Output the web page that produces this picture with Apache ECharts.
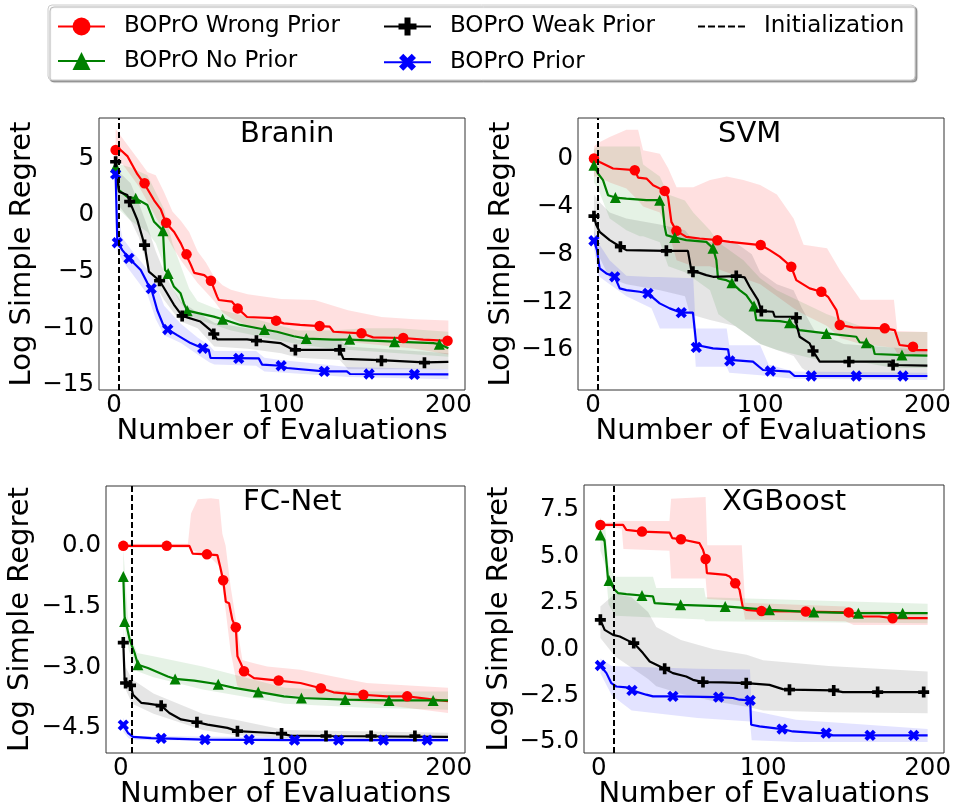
<!DOCTYPE html>
<html><head><meta charset="utf-8">
<script src="https://cdn.jsdelivr.net/npm/echarts@6/dist/echarts.min.js"></script>
<style>html,body{margin:0;padding:0;background:#fff}#c{width:954px;height:809px}</style>
</head><body><div id="c"></div>
<script>
// ---------------- DATA ----------------
const seriesNames = ['BOPrO Wrong Prior', 'BOPrO No Prior', 'BOPrO Weak Prior', 'BOPrO Prior'];
const initName = 'Initialization';
const panelTitles = ['Branin', 'SVM', 'FC-Net', 'XGBoost'];
const initX = [3, 3, 7, 9];
const xTicks = [0, 100, 200];
const braninYTicks = [5, 0, -5, -10, -15];
const svmYTicks = [0, -4, -8, -12, -16];
const fcYTicks = [0, -1.5, -3, -4.5];
const xgbYTicks = [7.5, 5, 2.5, 0, -2.5, -5];

// Branin
const braninWrong = [[1,5.74],[4,5.74],[8,5.2],[14,3.6],[18,2.8],[24,1.3],[28,0.5],[31,-0.68],[36,-1.5],[40,-2.5],[43,-3.47],[46,-4.4],[48,-5.1],[54,-5.3],[58,-5.8],[61.7,-7.2],[62.7,-7.5],[70.6,-7.65],[74,-8.24],[79.6,-9.0],[95.5,-9.1],[97,-9.32],[101.5,-9.56],[111.4,-9.7],[123,-9.8],[129,-9.85],[131.3,-10.3],[148,-10.44],[155,-10.8],[173,-10.85],[185,-11.0],[200,-11.1]];
const braninWrongMk = [[1,5.74],[18.3,2.8],[31.2,-0.68],[43.4,-3.47],[58,-5.8],[74,-8.24],[97,-9.32],[123,-9.8],[148,-10.44],[173,-10.85],[199.5,-11.1]];
const braninWrongBand = [[1,4.8,7.6],[5,4.5,6.8],[10,3.5,5.8],[15,2.5,4.8],[20,1.2,3.8],[25,-0.2,3.5],[30,-1.5,2.0],[35,-2.8,0.3],[40,-4.0,-0.5],[45,-5.0,-1.5],[50,-6.0,-3.2],[55,-6.8,-4.2],[60,-7.6,-5.5],[65,-8.6,-6.2],[70,-9.1,-6.6],[80,-9.8,-7.0],[100,-10.5,-7.4],[120,-10.9,-7.5],[140,-11.2,-8.4],[160,-11.5,-9.0],[180,-11.8,-9.2],[200,-12.3,-9.3]];
const braninNo = [[1,4.26],[3,2.2],[8,1.6],[13,1.47],[20,0.88],[24,-0.6],[29.3,-1.38],[30,-1.5],[30.5,-4.85],[32.4,-5.15],[35.8,-6.3],[39.8,-6.9],[41.8,-7.8],[43.8,-8.44],[51.7,-8.7],[59.7,-8.97],[65,-9.2],[75.6,-9.7],[90,-10.1],[97.5,-10.3],[107.5,-10.7],[115,-10.9],[131,-11.0],[141,-11.0],[167.8,-11.18],[191,-11.3],[195,-11.4],[200,-11.76]];
const braninNoMk = [[1,4.26],[13,1.47],[29.3,-1.38],[32.4,-5.15],[43.8,-8.44],[65,-9.2],[90,-10.1],[115,-10.9],[141,-10.97],[167.8,-11.18],[194.6,-11.4]];
const braninNoBand = [[1,3.0,5.5],[3,0.5,4.5],[10,-0.5,4.2],[20,-1.5,3.5],[25,-2.5,2.0],[30,-4.5,0.5],[35,-6.5,-2.5],[40,-7.8,-4.5],[45,-8.8,-6.5],[50,-9.2,-7.6],[60,-9.7,-8.2],[70,-10.2,-8.6],[90,-10.8,-9.4],[110,-11.4,-10.2],[130,-11.8,-10.2],[150,-12.0,-10.0],[170,-12.2,-10.0],[200,-12.5,-10.3]];
const braninWeak = [[1,4.7],[3,2.06],[8,1.76],[9.4,1.18],[14,-0.44],[18.3,-2.65],[20.9,-5.0],[27.3,-5.8],[31.8,-6.9],[35.8,-7.9],[40.8,-8.9],[51.7,-9.4],[57.7,-10.15],[59.7,-10.5],[61.7,-10.97],[79.6,-10.97],[85.2,-11.09],[99.5,-11.3],[105.5,-11.76],[108.5,-11.9],[135,-11.9],[137.3,-12.7],[159,-12.8],[185.7,-13.0],[200,-12.95]];
const braninWeakMk = [[1,4.7],[9.4,1.18],[18.3,-2.65],[27.3,-5.8],[40.8,-8.9],[59.7,-10.5],[85.2,-11.09],[108.5,-11.9],[135,-11.9],[160,-12.85],[185.7,-13.03]];
const braninWeakBand = [[1,3.5,6.0],[3,0.8,3.8],[10,-0.5,2.8],[15,-2.0,1.0],[20,-4.5,-1.0],[25,-6.2,-3.2],[30,-7.5,-5.0],[35,-8.5,-6.5],[40,-9.4,-7.6],[50,-10.0,-8.6],[60,-11.6,-9.5],[80,-11.8,-10.0],[100,-12.2,-10.3],[110,-12.6,-11.0],[135,-12.8,-11.0],[140,-13.6,-11.6],[200,-13.6,-12.2]];
const braninPrior = [[1,3.6],[2,-2.35],[5,-3.1],[9,-3.82],[16,-4.85],[20,-6.0],[22.3,-6.5],[25.9,-8.4],[29.9,-9.85],[32.2,-10.1],[37.8,-10.6],[45.8,-11.3],[53.1,-11.76],[56.7,-11.9],[57.7,-12.6],[86.6,-12.65],[88.6,-13.2],[100,-13.3],[103.5,-13.5],[125.8,-13.8],[139.3,-13.8],[141.3,-14.03],[200,-14.06]];
const braninPriorMk = [[1,3.6],[2,-2.45],[9,-3.82],[22.3,-6.5],[32.2,-10.1],[53.1,-11.76],[74.6,-12.65],[100,-13.3],[125.8,-13.8],[152.6,-14.03],[179.7,-14.06]];
const braninPriorBand = [[1,2.5,4.5],[2,-3.2,0.5],[5,-4.0,-2.0],[10,-5.0,-3.0],[20,-7.0,-4.8],[25,-9.2,-6.0],[30,-10.6,-8.0],[40,-11.3,-9.6],[50,-12.3,-10.8],[57,-13.0,-11.5],[60,-13.2,-12.0],[85,-13.3,-12.0],[90,-13.8,-12.6],[100,-13.9,-12.8],[140,-14.3,-13.4],[200,-14.5,-13.6]];

// SVM
const svmWrong = [[0.6,0],[4,-0.28],[12,-0.83],[25,-0.97],[27,-1.59],[32,-1.67],[36,-2.23],[42.9,-2.7],[44.9,-3.2],[46.9,-5.29],[49.9,-6.04],[55.8,-6.54],[63.8,-6.68],[74.4,-6.82],[81.8,-6.96],[100.3,-7.23],[105.7,-7.65],[111.7,-8.2],[118.6,-9.04],[121.6,-10.16],[129.6,-10.85],[136.6,-11.13],[140.6,-11.55],[145.6,-12.66],[147.6,-13.91],[155.5,-14.1],[174.5,-14.19],[180.5,-14.33],[183.4,-15.58],[191.4,-15.72],[193.4,-16.0],[200,-16.0]];
const svmWrongMk = [[0.6,0],[25,-0.97],[42.9,-2.7],[49.9,-6.04],[74.4,-6.82],[100.3,-7.23],[118.6,-9.04],[136.6,-11.13],[147.6,-13.91],[174.5,-14.19],[191.4,-15.72]];
const svmWrongBand = [[0.6,-1.5,1.0],[3,-1.5,1.3],[10,-2.0,1.8],[20,-2.5,2.4],[27,-3.5,2.4],[30,-4.0,0.7],[40,-4.5,0.4],[45,-6.0,-0.8],[50,-8.5,-2.4],[60,-9.0,-2.4],[70,-9.0,-1.8],[80,-9.5,-1.5],[90,-10.0,-1.8],[100,-10.5,-2.2],[110,-11.5,-3.0],[120,-12.5,-5.0],[126,-13.0,-7.2],[140,-14.0,-7.5],[148,-15.0,-9.4],[160,-15.5,-11.8],[180,-15.8,-11.8],[182,-16.3,-14.4],[200,-16.5,-14.5]];
const svmNo = [[0.6,-0.56],[3,-1.25],[6,-1.8],[9,-3.06],[13.4,-3.26],[20,-3.34],[32,-3.48],[39.9,-3.48],[41.5,-3.8],[42.9,-5.7],[43.9,-6.4],[48.9,-6.6],[55.8,-6.82],[67.8,-6.96],[71.8,-7.5],[73.8,-8.49],[74.8,-10.02],[79.8,-10.16],[83.1,-10.38],[87.7,-10.99],[91.7,-11.41],[96.3,-12.33],[97.7,-13.5],[111.7,-13.58],[117.6,-13.72],[123.6,-14.33],[139.6,-14.61],[157.5,-14.89],[159.5,-15.35],[163.5,-15.4],[167.5,-15.72],[168.5,-16.33],[184.8,-16.42],[200,-16.47]];
const svmNoMk = [[0.6,-0.56],[13.4,-3.26],[39.9,-3.48],[48.9,-6.6],[71.8,-7.5],[83.1,-10.38],[96.3,-12.33],[117.6,-13.72],[139.6,-14.61],[163.5,-15.4],[184.8,-16.42]];
const svmNoBand = [[0.6,-2.0,0.8],[3,-2.5,1.0],[10,-5.0,1.0],[20,-6.0,1.0],[28,-6.5,1.0],[30,-6.5,-0.5],[40,-7.0,-1.5],[45,-9.0,-3.0],[55,-9.5,-3.5],[60,-10.0,-4.5],[70,-11.0,-6.0],[75,-13.0,-7.0],[90,-14.5,-8.5],[100,-15.5,-10.0],[110,-16.0,-11.0],[125,-16.5,-12.0],[140,-17.0,-13.0],[160,-17.0,-14.0],[180,-17.5,-14.5],[200,-17.5,-14.5]];
const svmWeak = [[0.6,-4.81],[2,-5.56],[4,-6.12],[10,-6.82],[16.4,-7.37],[20,-7.65],[43.9,-7.71],[56.8,-7.71],[58.8,-9.32],[59.8,-9.46],[67.8,-9.74],[71.8,-9.88],[85.7,-9.82],[90.7,-9.93],[93.7,-10.71],[98.7,-11.83],[100.7,-12.74],[107.7,-12.8],[108.7,-13.22],[120.6,-13.22],[121.6,-13.3],[123.6,-14.89],[129.6,-15.44],[131.6,-16.08],[135.6,-16.97],[153.1,-16.97],[178,-16.97],[179.5,-17.25],[200,-17.3]];
const svmWeakMk = [[0.6,-4.81],[16.4,-7.37],[43.9,-7.71],[59.8,-9.46],[85.7,-9.82],[100.7,-12.74],[121.6,-13.3],[131.6,-16.08],[153.1,-16.97],[179.5,-17.25]];
const svmWeakBand = [[0.6,-6.5,-3.0],[3,-8.0,-3.5],[10,-10.0,-4.5],[20,-10.5,-5.0],[40,-11.0,-5.5],[55,-11.5,-6.0],[58,-13.0,-6.5],[70,-13.5,-7.0],[85,-14.0,-7.0],[95,-15.0,-8.0],[100,-15.5,-9.5],[110,-16.0,-10.5],[120,-16.5,-11.0],[125,-17.5,-12.5],[133,-18.3,-14.5],[150,-18.3,-15.5],[200,-18.3,-16.0]];
const svmPrior = [[0.6,-6.87],[2.4,-7.65],[4,-9.18],[8,-9.6],[13,-9.88],[16,-10.85],[20,-10.99],[27.9,-11.13],[32.9,-11.27],[39.9,-12.1],[45.9,-12.52],[52.8,-12.88],[59.8,-12.88],[61.8,-15.58],[71.8,-15.86],[80.8,-15.94],[81.8,-16.83],[95.7,-16.97],[101.7,-17.67],[117.6,-17.81],[120.6,-18.17],[200,-18.17]];
const svmPriorMk = [[0.6,-6.87],[13,-9.88],[32.9,-11.27],[52.8,-12.88],[61.8,-15.78],[81.8,-16.9],[106.1,-17.75],[130.6,-18.17],[157.5,-18.17],[185.4,-18.17]];
const svmPriorBand = [[0.6,-7.5,-6.0],[3,-9.8,-7.0],[10,-10.5,-8.5],[20,-11.5,-9.8],[35,-12.5,-9.9],[40,-14.2,-9.9],[60,-14.2,-10.0],[61.5,-17.4,-14.2],[80,-17.4,-14.2],[81.5,-17.9,-15.6],[100,-18.1,-15.6],[105,-18.2,-17.2],[120,-18.4,-17.8],[200,-18.5,-17.9]];

// FC-Net
const fcWrong = [[1.6,0],[41.9,0],[43.9,-0.19],[52.6,-0.21],[59,-0.23],[60.7,-0.52],[62.5,-0.85],[64.1,-1.38],[66.1,-1.42],[68.1,-1.83],[70.2,-2.01],[71.2,-2.73],[73.2,-2.9],[75.2,-3.1],[81.3,-3.27],[96.3,-3.33],[109.6,-3.39],[122.1,-3.52],[129.8,-3.62],[139.9,-3.66],[148,-3.68],[162.2,-3.72],[174.7,-3.72],[199.6,-3.84]];
const fcWrongMk = [[1.6,0],[28.1,0],[52.6,-0.21],[62.5,-0.85],[70.2,-2.01],[75.2,-3.1],[96.3,-3.33],[122.1,-3.52],[148,-3.68],[174.7,-3.72]];
const fcWrongBand = [[1.6,-0.05,0.05],[41,-0.05,0.05],[42.9,-0.1,0.8],[47,-0.15,1.15],[55,-0.3,1.18],[60,-0.5,1.15],[62,-1.0,0.3],[64,-1.6,0.0],[67,-2.6,-1.0],[71,-3.45,-2.0],[74.2,-3.55,-2.82],[81.3,-3.6,-2.9],[89.4,-3.64,-2.98],[109.6,-3.72,-3.06],[129.8,-3.8,-3.23],[150,-3.88,-3.39],[199.6,-4.13,-3.51]];
const fcNo = [[1.6,-0.76],[2.4,-1.75],[5.5,-2.32],[8.5,-2.65],[10.5,-2.94],[16.6,-3.02],[28.7,-3.23],[33.2,-3.29],[44.9,-3.33],[59.5,-3.42],[69.2,-3.51],[83.9,-3.61],[99.5,-3.72],[110.2,-3.76],[136.9,-3.8],[163.6,-3.82],[199.6,-3.82]];
const fcNoMk = [[1.6,-0.76],[2.4,-1.87],[10.5,-2.94],[33.2,-3.29],[59.5,-3.42],[83.9,-3.61],[110.2,-3.76],[136.9,-3.8],[163.6,-3.82],[190.5,-3.82]];
const fcNoBand = [[1.6,-1.5,-0.05],[3,-2.2,-0.9],[5,-2.6,-2.08],[10,-3.1,-2.65],[20,-3.25,-2.73],[50,-3.55,-2.98],[100,-3.9,-3.51],[150,-4.0,-3.6],[199.6,-4.05,-3.6]];
const fcWeak = [[1.6,-2.39],[2.4,-3.31],[4,-3.39],[6.1,-3.43],[7.5,-3.68],[12.5,-3.88],[16.6,-3.9],[24.7,-3.95],[29.7,-4.13],[36.8,-4.29],[46.5,-4.36],[53,-4.42],[65.1,-4.5],[71.2,-4.58],[89.4,-4.62],[98.1,-4.64],[103.5,-4.69],[125.2,-4.7],[199.6,-4.72]];
const fcWeakMk = [[1.6,-2.39],[3,-3.39],[6,-3.45],[24.7,-3.95],[46.5,-4.36],[71.2,-4.58],[98.1,-4.64],[125.2,-4.7],[152.7,-4.7],[179.4,-4.7]];
const fcWeakBand = [[1.6,-2.8,-2.0],[3,-3.55,-3.0],[7,-3.9,-3.3],[20,-4.15,-3.65],[50,-4.55,-4.15],[70,-4.68,-4.3],[100,-4.75,-4.55],[199.6,-4.8,-4.62]];
const fcPrior = [[1.6,-4.43],[4.4,-4.62],[7.5,-4.72],[18.6,-4.75],[24.7,-4.76],[51.4,-4.79],[106,-4.8],[199.6,-4.8]];
const fcPriorMk = [[1.6,-4.43],[24.7,-4.76],[51.4,-4.79],[78.3,-4.79],[106,-4.8],[132.9,-4.8],[160.2,-4.8],[186.9,-4.8]];
const fcPriorBand = [[1.6,-4.6,-4.25],[5,-4.76,-4.6],[10,-4.8,-4.7],[199.6,-4.85,-4.76]];

// XGBoost
const xgbWrong = [[1,6.69],[14.8,6.69],[16.8,6.42],[26.3,6.33],[43.1,6.28],[44.7,5.98],[50,5.92],[61.3,5.71],[63.4,5.35],[65,4.86],[65.8,4.09],[77.5,4.0],[79.6,3.91],[83,3.55],[85.6,3.2],[87.7,2.21],[89.7,2.12],[99,2.05],[125.9,2.03],[150.4,1.98],[154.5,1.76],[170.6,1.76],[178.7,1.67],[200,1.67]];
const xgbWrongMk = [[1,6.69],[26.3,6.33],[50,5.92],[65,4.86],[83,3.55],[99,2.05],[125.9,2.03],[152,1.98],[178.7,1.67]];
const xgbWrongBand = [[1,6.6,6.8],[14,6.5,6.9],[15,5.4,6.9],[43,5.3,6.9],[44,3.8,8.1],[65,3.8,8.2],[66,2.7,5.6],[87,2.6,5.6],[89,1.6,2.5],[150,1.5,2.3],[155,1.3,2.1],[200,1.3,2.0]];
const xgbNo = [[1,6.15],[3.6,5.8],[5.7,3.73],[6.3,3.7],[9.7,3.2],[11.7,3.02],[16.8,2.96],[26.3,2.89],[33,2.84],[34,2.48],[49.8,2.39],[76.9,2.3],[103.8,2.12],[130.8,2.0],[157.9,1.94],[200,1.94]];
const xgbNoMk = [[1,6.15],[6.3,3.7],[26.3,2.89],[49.8,2.39],[76.9,2.3],[103.8,2.12],[130.8,2.0],[157.9,1.94],[184.8,1.94]];
const xgbNoBand = [[1,5.3,7.1],[4,4.5,6.5],[6,2.4,4.5],[10,1.8,3.9],[33,1.7,3.9],[35,1.7,3.3],[64,1.6,3.3],[65,1.5,2.8],[200,1.4,2.45]];
const xgbWeak = [[1,1.58],[3.6,1.04],[8.7,0.77],[12.8,0.68],[18.8,0.42],[21.3,0.33],[26.9,-0.21],[31,-0.66],[40.1,-1.05],[45.1,-1.29],[53.2,-1.47],[57.3,-1.65],[63.4,-1.77],[75.5,-1.79],[89.7,-1.83],[103.8,-1.92],[111.9,-2.15],[116,-2.18],[142.9,-2.22],[148.4,-2.31],[200,-2.31]];
const xgbWeakMk = [[1,1.58],[21.3,0.33],[40.1,-1.05],[63.4,-1.77],[89.7,-1.83],[116,-2.18],[142.9,-2.22],[169.6,-2.31],[197.6,-2.31]];
const xgbWeakBand = [[1,0.6,2.3],[10,-0.4,3.0],[20,-1.0,2.8],[30,-1.6,2.0],[35,-2.0,1.2],[50,-2.4,0.5],[70,-2.8,0.0],[90,-3.1,-0.3],[100,-3.3,-0.6],[140,-3.4,-0.9],[200,-3.45,-1.2]];
const xgbPrior = [[1,-0.88],[4.7,-1.29],[7.7,-1.83],[10.7,-2.01],[16.8,-2.06],[20.2,-2.22],[28.9,-2.45],[33,-2.54],[45.1,-2.54],[72.9,-2.58],[81.6,-2.63],[85.6,-2.72],[92.1,-2.76],[92.7,-4.07],[97.8,-4.16],[111.5,-4.3],[118,-4.43],[134.2,-4.52],[138.3,-4.52],[142.3,-4.64],[200,-4.64]];
const xgbPriorMk = [[1,-0.88],[20.2,-2.22],[45.1,-2.54],[72.9,-2.58],[92.1,-2.76],[111.5,-4.3],[138.3,-4.52],[165,-4.64],[191.5,-4.64]];
const xgbPriorBand = [[1,-1.3,-0.5],[8,-2.5,-0.9],[20,-3.3,-0.95],[40,-3.5,-1.0],[60,-3.7,-1.05],[92,-3.9,-1.1],[93,-4.9,-3.3],[120,-5.0,-3.8],[200,-5.0,-4.3]];

// ---------------- STYLE / LAYOUT ----------------
const FONT = 'DejaVu Sans';
const colors = ['#ff0000', '#008000', '#000000', '#0000ff'];
const bandColors = ['rgba(255,0,0,0.12)', 'rgba(0,128,0,0.10)', 'rgba(0,0,0,0.10)', 'rgba(0,0,255,0.11)'];
const plusPath = 'path://M4,0h4v4h4v4h-4v4h-4v-4h-4v-4h4z';
const symbols = ['circle', 'triangle', plusPath, plusPath];
const symbolRot = [0, 0, 0, 45];
const markSizes = [10.5, 11, 11, 12];
const dashPath = 'path://M0,0h7v2h-7z M10,0h7v2h-7z M20,0h7v2h-7z M30,0h7v2h-7z M40,0h7v2h-7z';

const panels = [
  { lines: [braninWrong, braninNo, braninWeak, braninPrior], marks: [braninWrongMk, braninNoMk, braninWeakMk, braninPriorMk], bands: [braninWrongBand, braninNoBand, braninWeakBand, braninPriorBand], yTicks: braninYTicks, dec: 0 },
  { lines: [svmWrong, svmNo, svmWeak, svmPrior], marks: [svmWrongMk, svmNoMk, svmWeakMk, svmPriorMk], bands: [svmWrongBand, svmNoBand, svmWeakBand, svmPriorBand], yTicks: svmYTicks, dec: 0 },
  { lines: [fcWrong, fcNo, fcWeak, fcPrior], marks: [fcWrongMk, fcNoMk, fcWeakMk, fcPriorMk], bands: [fcWrongBand, fcNoBand, fcWeakBand, fcPriorBand], yTicks: fcYTicks, dec: 1 },
  { lines: [xgbWrong, xgbNo, xgbWeak, xgbPrior], marks: [xgbWrongMk, xgbNoMk, xgbWeakMk, xgbPriorMk], bands: [xgbWrongBand, xgbNoBand, xgbWeakBand, xgbPriorBand], yTicks: xgbYTicks, dec: 1 }
];
const layout = [
  { left: 99, top: 118, width: 366, height: 272, ymin: -15.44, ymax: 8.56, yGap: 62, titleLeft: 240, titleTop: 120 },
  { left: 578, top: 118, width: 366, height: 272, ymin: -19.34, ymax: 3.39, yGap: 62, titleLeft: 718, titleTop: 120 },
  { left: 106, top: 486, width: 359, height: 267, ymin: -5.12, ymax: 1.48, yGap: 71, titleLeft: 243, titleTop: 488 },
  { left: 584, top: 485, width: 360, height: 268, ymin: -5.59, ymax: 8.84, yGap: 70, titleLeft: 722, titleTop: 488 }
];

function fmt(v, dec) {
  const s = Math.abs(v).toFixed(dec);
  return (v < 0 ? '\u2212' : '') + s;
}

const grids = [], xAxes = [], yAxes = [], titles = [], series = [];
panels.forEach((p, gi) => {
  const L = layout[gi];
  grids.push({ left: L.left, top: L.top, width: L.width, height: L.height, show: true, borderColor: '#333', borderWidth: 1, backgroundColor: 'transparent', containLabel: false, outerBoundsMode: 'none' });
  xAxes.push({
    type: 'value', gridIndex: gi, min: -8.95, max: 209.95,
    axisLine: { show: false }, axisTick: { show: false }, splitLine: { show: false },
    axisLabel: { customValues: xTicks, fontSize: 24.5, color: '#000', fontFamily: FONT, margin: 3, formatter: v => fmt(v, 0) },
    name: 'Number of Evaluations', nameLocation: 'middle', nameGap: 27, nameMoveOverlap: false,
    nameTextStyle: { fontSize: 29, color: '#000', fontFamily: FONT }
  });
  yAxes.push({
    type: 'value', gridIndex: gi, min: L.ymin, max: L.ymax,
    axisLine: { show: false }, axisTick: { show: false }, splitLine: { show: false },
    axisLabel: { customValues: p.yTicks, fontSize: 24.5, color: '#000', fontFamily: FONT, margin: 5, formatter: v => fmt(v, p.dec) },
    name: 'Log Simple Regret', nameLocation: 'middle', nameGap: L.yGap, nameMoveOverlap: false,
    nameTextStyle: { fontSize: 29, color: '#000', fontFamily: FONT }
  });
  titles.push({ text: panelTitles[gi], left: L.titleLeft, top: L.titleTop, padding: 0, textStyle: { fontSize: 29, fontWeight: 'normal', color: '#000', fontFamily: FONT } });

  // bands
  p.bands.forEach((band, si) => {
    series.push({
      type: 'custom', xAxisIndex: gi, yAxisIndex: gi, data: band, encode: { x: 0, y: [1, 2] }, silent: true, z: 1, clip: true,
      renderItem: function (params, api) {
        if (params.dataIndex !== 0) return null;
        const pts = [];
        for (let i = 0; i < band.length; i++) pts.push(api.coord([band[i][0], band[i][2]]));
        for (let i = band.length - 1; i >= 0; i--) pts.push(api.coord([band[i][0], band[i][1]]));
        return { type: 'polygon', shape: { points: pts }, style: { fill: bandColors[si] } };
      }
    });
  });
  // lines
  p.lines.forEach((ln, si) => {
    series.push({
      name: seriesNames[si], type: 'line', xAxisIndex: gi, yAxisIndex: gi, data: ln,
      symbol: symbols[si], symbolRotate: symbolRot[si], symbolSize: markSizes[si], showSymbol: false,
      color: colors[si], lineStyle: { width: 2.2, color: colors[si] }, itemStyle: { color: colors[si] },
      z: 3, silent: true
    });
  });
  // markers
  p.marks.forEach((mk, si) => {
    series.push({
      name: seriesNames[si], type: 'scatter', xAxisIndex: gi, yAxisIndex: gi, data: mk,
      symbol: symbols[si], symbolRotate: symbolRot[si], symbolSize: markSizes[si],
      itemStyle: { color: colors[si], opacity: 1 }, z: 4, silent: true
    });
  });
  // initialization
  series.push({
    name: initName, type: 'line', xAxisIndex: gi, yAxisIndex: gi, data: [], symbol: 'none', color: '#000',
    lineStyle: { color: '#000', width: 2, type: [6, 3] },
    markLine: { silent: true, symbol: ['none', 'none'], label: { show: false }, animation: false,
      lineStyle: { color: '#000', width: 2, type: [6, 3] }, data: [{ xAxis: initX[gi] }] },
    z: 5
  });
});

const legendBase = { orient: 'horizontal', padding: 0, itemWidth: 47, itemHeight: 22.5, selectedMode: false,
  textStyle: { fontSize: 23, color: '#000', fontFamily: FONT, padding: [0, 0, 0, 14] } };
const legends = [
  Object.assign({}, legendBase, { data: [seriesNames[0]], left: 57, top: 15 }),
  Object.assign({}, legendBase, { data: [seriesNames[1]], left: 57, top: 49.5 }),
  Object.assign({}, legendBase, { data: [seriesNames[2]], left: 383, top: 15 }),
  Object.assign({}, legendBase, { data: [seriesNames[3]], left: 383, top: 49.5 }),
  Object.assign({}, legendBase, { data: [{ name: initName, icon: dashPath }], left: 698, top: 15 })
];

const chart = echarts.init(document.getElementById('c'), null, { renderer: 'canvas' });
chart.setOption({
  animation: false,
  backgroundColor: '#fff',
  textStyle: { fontFamily: FONT },
  title: titles,
  grid: grids,
  xAxis: xAxes,
  yAxis: yAxes,
  legend: legends,
  graphic: [
    { type: 'rect', z: -1, silent: true, shape: { x: 48, y: 5, width: 867, height: 75, r: 4 },
      style: { fill: '#fff', stroke: '#cccccc', lineWidth: 1, shadowColor: 'rgba(0,0,0,0.35)', shadowOffsetX: 2, shadowOffsetY: 2, shadowBlur: 1 } }
  ],
  series: series
});
</script>
</body></html>
